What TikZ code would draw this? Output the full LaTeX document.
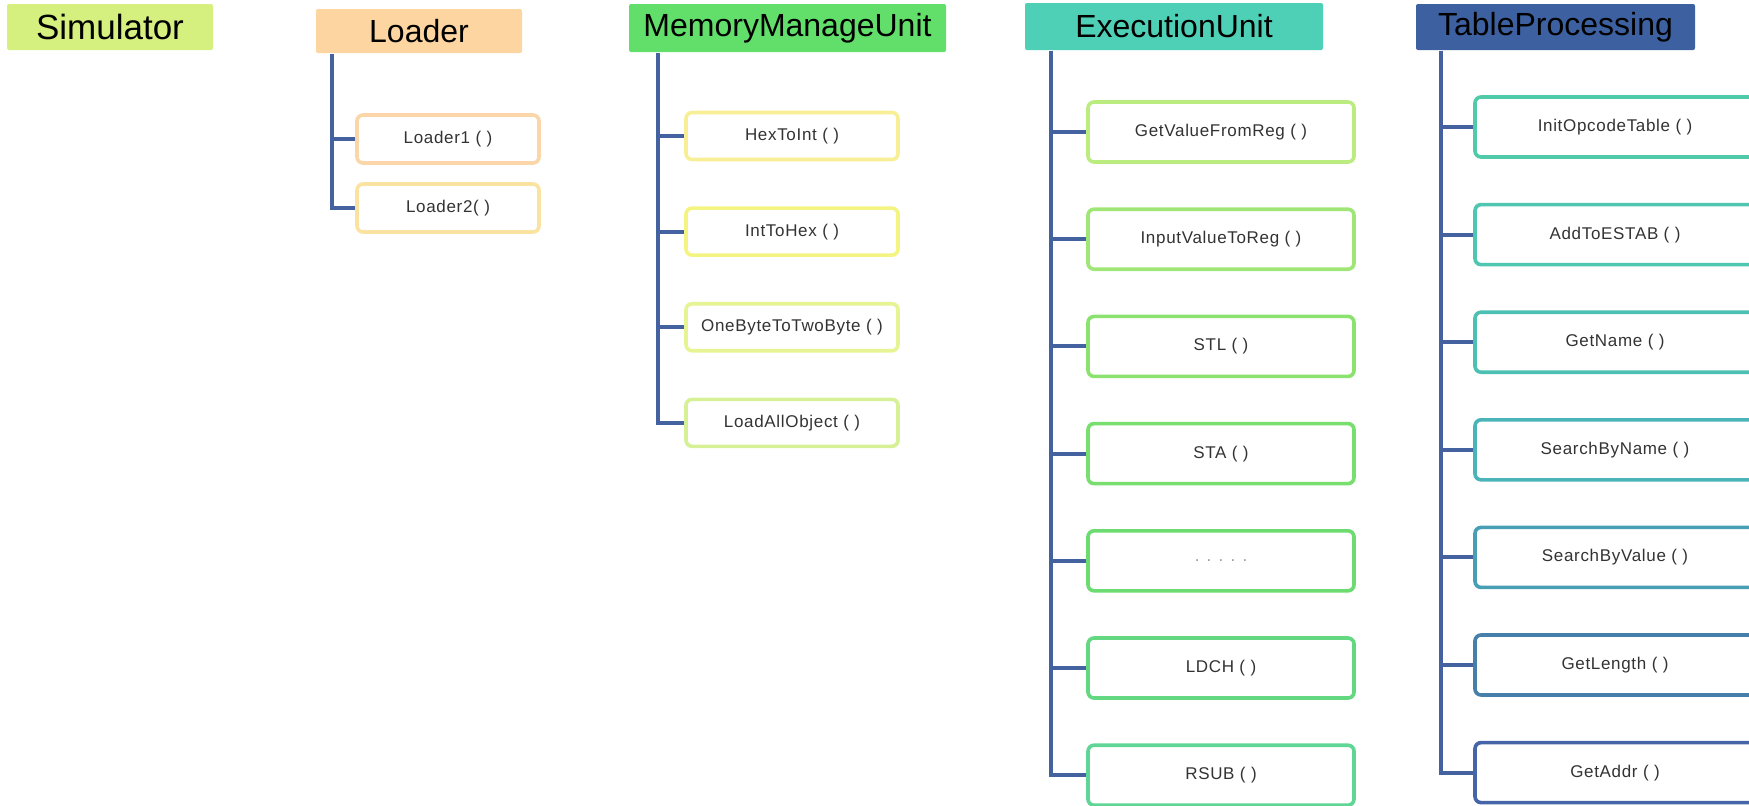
\documentclass[tikz,border=0pt]{standalone}
\usepackage{fontspec}
\setmainfont{Liberation Sans}
\usetikzlibrary{arrows.meta}

\definecolor{simfill}{RGB}{213,240,126}
\definecolor{loadfill}{RGB}{252,213,160}
\definecolor{mmufill}{RGB}{98,222,106}
\definecolor{exefill}{RGB}{78,208,182}
\definecolor{tabfill}{RGB}{60,96,160}
\definecolor{linkblue}{RGB}{68,98,160}
\definecolor{lo1c}{RGB}{250,214,168}
\definecolor{lo2c}{RGB}{250,226,160}
\definecolor{mmu1c}{RGB}{248,238,150}
\definecolor{mmu2c}{RGB}{244,244,130}
\definecolor{mmu3c}{RGB}{230,244,148}
\definecolor{mmu4c}{RGB}{214,240,150}
\definecolor{exe1c}{RGB}{186,236,128}
\definecolor{exe2c}{RGB}{160,230,118}
\definecolor{exe3c}{RGB}{140,226,110}
\definecolor{exe4c}{RGB}{120,222,110}
\definecolor{exe5c}{RGB}{108,220,112}
\definecolor{exe6c}{RGB}{100,216,128}
\definecolor{exe7c}{RGB}{96,214,150}
\definecolor{tab1c}{RGB}{80,202,168}
\definecolor{tab2c}{RGB}{78,198,176}
\definecolor{tab3c}{RGB}{76,192,178}
\definecolor{tab4c}{RGB}{74,180,184}
\definecolor{tab5c}{RGB}{72,158,180}
\definecolor{tab6c}{RGB}{70,128,170}
\definecolor{tab7c}{RGB}{70,100,168}

\begin{document}
\begin{tikzpicture}[x=0.5pt, y=-0.5pt, semithick,
    head/.style={fill=#1, rounded corners=1pt, minimum height=23pt, inner sep=0pt,
      font=\fontsize{16}{19}\selectfont},
    leaf/.style={draw=#1, line width=1.8pt, rounded corners=3pt, fill=white, inner sep=0pt,
      text=black!80, font=\fontsize{8.5}{10}\selectfont\addfontfeatures{LetterSpace=4}},
    loadbox/.style={leaf=#1, minimum width=91pt, minimum height=24pt},
    mmubox/.style={leaf=#1, minimum width=106pt, minimum height=23.5pt},
    exebox/.style={leaf=#1, minimum width=133pt, minimum height=30pt},
    tabbox/.style={leaf=#1, minimum width=140pt, minimum height=30pt},
    branch/.style={draw=linkblue, line width=2pt}]
    \useasboundingbox (0,0) rectangle (1749,805);

    % module headers
    \node[head=simfill, minimum width=103pt, font=\fontsize{17.5}{20}\selectfont] (sim) at (110,27) {Simulator};
    \node[head=loadfill, minimum width=103pt, minimum height=22pt] (lo) at (419,31) {Loader};
    \node[head=mmufill, minimum width=158.5pt, minimum height=24pt] (mmu) at (787.5,28) {MemoryManageUnit};
    \node[head=exefill, minimum width=149pt, minimum height=23.5pt] (exe) at (1174,26.5) {ExecutionUnit};
    \node[head=tabfill, minimum width=139.5pt] (tab) at (1555.5,27) {TableProcessing};

    % Loader
    \node[loadbox=lo1c] (lo1) at (448,139) {Loader1 ( )};
    \node[loadbox=lo2c] (lo2) [below of=lo1, node distance=34.5pt] {Loader2( )};

    % MemoryManageUnit
    \node[mmubox=mmu1c] (mmu1) at (792,136) {HexToInt ( )};
    \node[mmubox=mmu2c] (mmu2) [below of=mmu1, node distance=47.8pt] {IntToHex ( )};
    \node[mmubox=mmu3c] (mmu3) [below of=mmu2, node distance=47.8pt] {OneByteToTwoByte ( )};
    \node[mmubox=mmu4c] (mmu4) [below of=mmu3, node distance=47.8pt] {LoadAllObject ( )};

    % ExecutionUnit
    \node[exebox=exe1c] (exe1) at (1221,132) {GetValueFromReg ( )};
    \node[exebox=exe2c] (exe2) [below of=exe1, node distance=53.6pt] {InputValueToReg ( )};
    \node[exebox=exe3c] (exe3) [below of=exe2, node distance=53.6pt] {STL ( )};
    \node[exebox=exe4c] (exe4) [below of=exe3, node distance=53.6pt] {STA ( )};
    \node[exebox=exe5c] (exe5) [below of=exe4, node distance=53.6pt] {\textcolor{black!40}{. . . . .}};
    \node[exebox=exe6c] (exe6) [below of=exe5, node distance=53.6pt] {LDCH ( )};
    \node[exebox=exe7c] (exe7) [below of=exe6, node distance=53.6pt] {RSUB ( )};

    % TableProcessing
    \node[tabbox=tab1c] (tab1) at (1615,127) {InitOpcodeTable ( )};
    \node[tabbox=tab2c] (tab2) [below of=tab1, node distance=53.8pt] {AddToESTAB ( )};
    \node[tabbox=tab3c] (tab3) [below of=tab2, node distance=53.8pt] {GetName ( )};
    \node[tabbox=tab4c] (tab4) [below of=tab3, node distance=53.8pt] {SearchByName ( )};
    \node[tabbox=tab5c] (tab5) [below of=tab4, node distance=53.8pt] {SearchByValue ( )};
    \node[tabbox=tab6c] (tab6) [below of=tab5, node distance=53.8pt] {GetLength ( )};
    \node[tabbox=tab7c] (tab7) [below of=tab6, node distance=53.8pt] {GetAddr ( )};

    % trunks
    \coordinate (lot) at ([xshift=8.5pt]lo.south west);
    \coordinate (mmut) at ([xshift=15pt]mmu.south west);
    \coordinate (exet) at ([xshift=13.5pt]exe.south west);
    \coordinate (tabt) at ([xshift=13pt]tab.south west);

    \draw[branch] (lot) |- (lo2.west);
    \draw[branch] (lot |- lo1) -- (lo1.west);

    \draw[branch] (mmut) |- (mmu4.west);
    \draw[branch] (mmut |- mmu1) -- (mmu1.west);
    \draw[branch] (mmut |- mmu2) -- (mmu2.west);
    \draw[branch] (mmut |- mmu3) -- (mmu3.west);

    \draw[branch] (exet) |- (exe7.west);
    \draw[branch] (exet |- exe1) -- (exe1.west);
    \draw[branch] (exet |- exe2) -- (exe2.west);
    \draw[branch] (exet |- exe3) -- (exe3.west);
    \draw[branch] (exet |- exe4) -- (exe4.west);
    \draw[branch] (exet |- exe5) -- (exe5.west);
    \draw[branch] (exet |- exe6) -- (exe6.west);

    \draw[branch] (tabt) |- (tab7.west);
    \draw[branch] (tabt |- tab1) -- (tab1.west);
    \draw[branch] (tabt |- tab2) -- (tab2.west);
    \draw[branch] (tabt |- tab3) -- (tab3.west);
    \draw[branch] (tabt |- tab4) -- (tab4.west);
    \draw[branch] (tabt |- tab5) -- (tab5.west);
    \draw[branch] (tabt |- tab6) -- (tab6.west);
\end{tikzpicture}
\end{document}
